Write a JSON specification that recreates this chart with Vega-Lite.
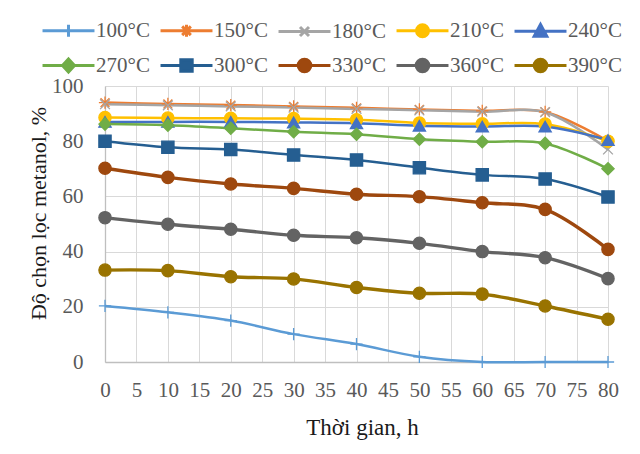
{
  "$schema": "https://vega.github.io/schema/vega-lite/v6.json",
  "width": 503,
  "height": 276,
  "autosize": {"type": "none"},
  "padding": {"left": 105, "top": 86, "right": 32, "bottom": 92},
  "background": "white",
  "config": {
    "font": "Liberation Serif",
    "view": {"stroke": null},
    "axis": {"labelFont": "Liberation Serif", "titleFont": "Liberation Serif"},
    "legend": {"labelFont": "Liberation Serif", "titleFont": "Liberation Serif"},
    "title": {"font": "Liberation Serif"}
  },
  "title": {"text": "CO₂", "fontSize": 21, "fontWeight": "normal", "color": "#404040", "anchor": "middle", "offset": 70, "dx": -28},
  "data": {"values": [
    {"t": 0,  "100°C": 20.3, "150°C": 94.0, "180°C": 93.4, "210°C": 88.6, "240°C": 87.0, "270°C": 86.2, "300°C": 80.0, "330°C": 70.2, "360°C": 52.3, "390°C": 33.3},
    {"t": 10, "100°C": 18.0, "150°C": 93.5, "180°C": 93.0, "210°C": 88.4, "240°C": 87.0, "270°C": 85.8, "300°C": 77.8, "330°C": 66.9, "360°C": 49.9, "390°C": 33.1},
    {"t": 20, "100°C": 15.0, "150°C": 93.1, "180°C": 92.6, "210°C": 88.3, "240°C": 87.0, "270°C": 84.7, "300°C": 77.0, "330°C": 64.5, "360°C": 48.1, "390°C": 30.9},
    {"t": 30, "100°C": 10.1, "150°C": 92.6, "180°C": 92.2, "210°C": 88.2, "240°C": 86.8, "270°C": 83.4, "300°C": 75.0, "330°C": 62.9, "360°C": 45.9, "390°C": 30.1},
    {"t": 40, "100°C": 6.5,  "150°C": 92.1, "180°C": 91.7, "210°C": 87.8, "240°C": 86.5, "270°C": 82.5, "300°C": 73.2, "330°C": 60.8, "360°C": 45.0, "390°C": 27.0},
    {"t": 50, "100°C": 1.9,  "150°C": 91.5, "180°C": 91.2, "210°C": 86.6, "240°C": 85.6, "270°C": 80.7, "300°C": 70.4, "330°C": 59.9, "360°C": 43.0, "390°C": 24.9},
    {"t": 60, "100°C": 0.0,  "150°C": 91.0, "180°C": 90.7, "210°C": 86.3, "240°C": 85.3, "270°C": 79.8, "300°C": 67.8, "330°C": 57.7, "360°C": 40.0, "390°C": 24.6},
    {"t": 70, "100°C": 0.0,  "150°C": 90.6, "180°C": 90.5, "210°C": 86.2, "240°C": 85.3, "270°C": 79.2, "300°C": 66.3, "330°C": 55.3, "360°C": 37.8, "390°C": 20.3},
    {"t": 80, "100°C": 0.0,  "150°C": 80.0, "180°C": 77.0, "210°C": 80.0, "240°C": 80.4, "270°C": 70.0, "300°C": 59.8, "330°C": 40.8, "360°C": 30.2, "390°C": 15.5}
  ]},
  "transform": [
    {"fold": ["100°C", "150°C", "180°C", "210°C", "240°C", "270°C", "300°C", "330°C", "360°C", "390°C"], "as": ["s", "v"]}
  ],
  "encoding": {
    "x": {
      "field": "t", "type": "quantitative",
      "scale": {"domain": [0, 80], "nice": false},
      "axis": {
        "title": "Thời gian, h",
        "values": [0, 5, 10, 15, 20, 25, 30, 35, 40, 45, 50, 55, 60, 65, 70, 75, 80],
        "grid": true, "gridColor": "#D9D9D9", "gridWidth": 1,
        "domainColor": "#BFBFBF", "domainWidth": 1.3,
        "ticks": false,
        "labelFont": "Liberation Serif", "labelFontSize": 21, "labelColor": "#595959", "labelPadding": 17,
        "labelFlush": false, "labelOverlap": false,
        "titleFont": "Liberation Serif", "titleFontSize": 23, "titleFontWeight": "normal", "titleColor": "#1a1a1a",
        "titlePadding": 16, "titleX": 257
      }
    },
    "y": {
      "field": "v", "type": "quantitative",
      "scale": {"domain": [0, 100], "nice": false},
      "axis": {
        "title": "Độ chọn lọc metanol, %",
        "values": [0, 20, 40, 60, 80, 100],
        "grid": true, "gridColor": "#D9D9D9", "gridWidth": 1,
        "domain": true, "domainColor": "#BFBFBF", "domainWidth": 1.3, "ticks": false,
        "labelFont": "Liberation Serif", "labelFontSize": 21, "labelColor": "#595959", "labelPadding": 22,
        "titleFont": "Liberation Serif", "titleFontSize": 22, "titleFontWeight": "normal", "titleColor": "#1a1a1a",
        "titleX": -67, "titleY": 127, "titleAngle": -90, "titleBaseline": "middle", "titleAlign": "center"
      }
    }
  },
  "resolve": {"scale": {"shape": "independent", "fill": "independent", "stroke": "independent"}},
  "layer": [
    {
      "transform": [{"filter": {"field": "s", "oneOf": ["100°C", "150°C", "180°C", "210°C", "240°C", "270°C", "300°C"]}}],
      "mark": {"type": "line", "interpolate": "catmull-rom", "strokeWidth": 2.5},
      "encoding": {
        "stroke": {"field": "s", "type": "nominal",
          "scale": {"domain": ["100°C", "150°C", "180°C", "210°C", "240°C", "270°C", "300°C"],
                    "range": ["#5B9BD5", "#ED7D31", "#A5A5A5", "#FFC000", "#4472C4", "#70AD47", "#255E91"]},
          "legend": null}
      }
    },
    {
      "transform": [{"filter": {"field": "s", "oneOf": ["330°C", "360°C", "390°C"]}}],
      "mark": {"type": "line", "interpolate": "catmull-rom", "strokeWidth": 3.4},
      "encoding": {
        "stroke": {"field": "s", "type": "nominal",
          "scale": {"domain": ["330°C", "360°C", "390°C"], "range": ["#9E480E", "#636363", "#997300"]},
          "legend": null}
      }
    },
    {
      "mark": {"type": "point", "filled": true, "size": 150, "strokeWidth": 1.3, "opacity": 1},
      "encoding": {
        "stroke": {"field": "s", "type": "nominal",
          "scale": {"range": ["#5B9BD5", "#ED7D31", "#A5A5A5", "#FFC000", "#4472C4", "#70AD47", "#255E91", "#9E480E", "#636363", "#997300"]},
          "legend": null},
        "fill": {"field": "s", "type": "nominal",
          "scale": {"range": ["#5B9BD5", "#ED7D31", "#A5A5A5", "#FFC000", "#4472C4", "#70AD47", "#255E91", "#9E480E", "#636363", "#997300"]},
          "legend": null},
        "shape": {"field": "s", "type": "nominal",
          "scale": {"range": ["M-1,0H1M0,-1V1", "M-1,0H1M0,-1V1M-0.72,-0.72L0.72,0.72M-0.72,0.72L0.72,-0.72", "M-0.8,-0.8L0.8,0.8M-0.8,0.8L0.8,-0.8", "circle", "triangle-up", "diamond", "square", "circle", "circle", "circle"]},
          "legend": null}
      }
    },
    {
      "transform": [{"filter": {"field": "t", "lt": 0}}],
      "mark": {"type": "point", "filled": true, "size": 144, "strokeWidth": 3, "opacity": 1},
      "encoding": {
        "fill": {"field": "s", "type": "nominal",
          "scale": {"domain": ["100°C", "150°C", "180°C", "210°C", "240°C", "270°C", "300°C", "330°C", "360°C", "390°C"],
                    "range": ["#5B9BD5", "#ED7D31", "#A5A5A5", "#FFC000", "#4472C4", "#70AD47", "#255E91", "#9E480E", "#636363", "#997300"]},
          "legend": {
            "orient": "none", "legendX": -47, "legendY": -66,
            "direction": "horizontal", "columns": 5, "title": null, "padding": 0,
            "labelFont": "Liberation Serif", "labelFontSize": 21, "labelColor": "#595959", "labelOffset": 17,
            "symbolSize": 144, "symbolStrokeWidth": 3, "symbolOpacity": 1,
            "rowPadding": 9, "columnPadding": 4
          }},
        "stroke": {"field": "s", "type": "nominal",
          "scale": {"domain": ["100°C", "150°C", "180°C", "210°C", "240°C", "270°C", "300°C", "330°C", "360°C", "390°C"],
                    "range": ["#5B9BD5", "#ED7D31", "#A5A5A5", "#FFC000", "#4472C4", "#70AD47", "#255E91", "#9E480E", "#636363", "#997300"]},
          "legend": {
            "orient": "none", "legendX": -47, "legendY": -66,
            "direction": "horizontal", "columns": 5, "title": null, "padding": 0,
            "labelFont": "Liberation Serif", "labelFontSize": 21, "labelColor": "#595959", "labelOffset": 17,
            "symbolSize": 144, "symbolStrokeWidth": 3, "symbolOpacity": 1,
            "rowPadding": 9, "columnPadding": 4
          }},
        "shape": {"field": "s", "type": "nominal",
          "scale": {"domain": ["100°C", "150°C", "180°C", "210°C", "240°C", "270°C", "300°C", "330°C", "360°C", "390°C"],
                    "range": ["M-4.33,0H4.33M0,-1V1", "M-4.33,0H4.33M0,-1V1M-0.72,-0.72L0.72,0.72M-0.72,0.72L0.72,-0.72", "M-4.33,0H4.33M-0.75,-0.75L0.75,0.75M-0.75,0.75L0.75,-0.75", "M-4.33,0H4.33M1,0A1,1,0,1,1,-1,0A1,1,0,1,1,1,0Z", "M-4.33,0H4.33M0,-1.15L1.05,0.8H-1.05Z", "M-4.33,0H4.33M0,-1.1L1,0L0,1.1L-1,0Z", "M-4.33,0H4.33M-0.95,-0.95H0.95V0.95H-0.95Z", "M-4.33,0H4.33M1.05,0A1.05,1.05,0,1,1,-1.05,0A1.05,1.05,0,1,1,1.05,0Z", "M-4.33,0H4.33M1.05,0A1.05,1.05,0,1,1,-1.05,0A1.05,1.05,0,1,1,1.05,0Z", "M-4.33,0H4.33M1.05,0A1.05,1.05,0,1,1,-1.05,0A1.05,1.05,0,1,1,1.05,0Z"]},
          "legend": {
            "orient": "none", "legendX": -47, "legendY": -66,
            "direction": "horizontal", "columns": 5, "title": null, "padding": 0,
            "labelFont": "Liberation Serif", "labelFontSize": 21, "labelColor": "#595959", "labelOffset": 17,
            "symbolSize": 144, "symbolStrokeWidth": 3, "symbolOpacity": 1,
            "rowPadding": 9, "columnPadding": 4
          }}
      }
    }
  ]
}
